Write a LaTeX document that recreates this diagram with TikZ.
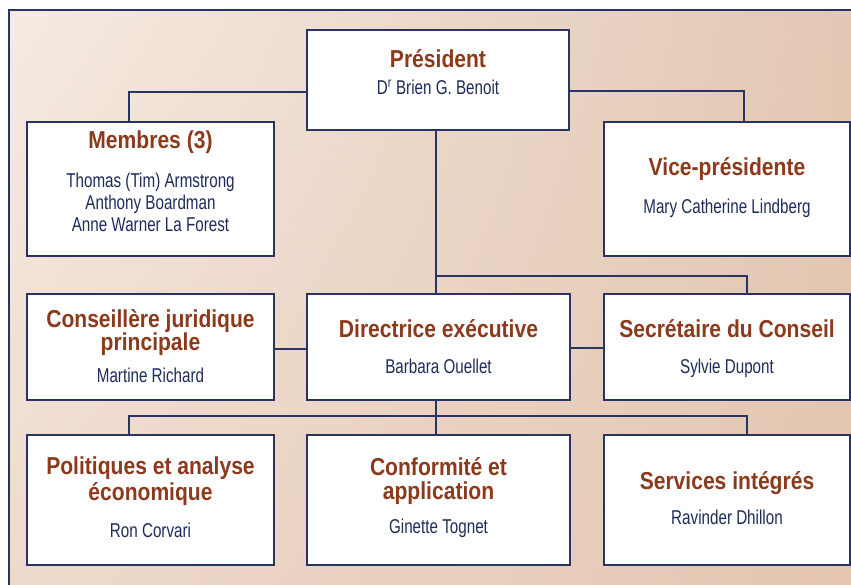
\documentclass[tikz,border=0pt]{standalone}
\usepackage{fontspec}
\usetikzlibrary{calc,shadings}
\setmainfont{Liberation Sans}
\newfontfamily\ttlfont[FakeStretch=0.86]{Liberation Sans}
\newfontfamily\nmfont[FakeStretch=0.76]{Liberation Sans}
\definecolor{bgA}{RGB}{246,235,226}
\definecolor{bgB}{RGB}{226,199,179}
\definecolor{bgC}{RGB}{238,218,204}
\definecolor{bgD}{RGB}{227,197,176}
\definecolor{navy}{RGB}{42,52,100}
\definecolor{namecol}{RGB}{30,44,90}
\definecolor{titlecol}{RGB}{140,58,28}
\tikzset{
  orgbox/.style={draw=navy, line width=2pt, fill=white, minimum width=#1, inner sep=0pt},
  link/.style={draw=navy, line width=2pt},
  ttl/.style={anchor=base, inner sep=0pt, text=titlecol, font=\ttlfont\bfseries\fontsize{24.5}{24.5}\selectfont},
  nm/.style={anchor=base, inner sep=0pt, text=namecol, font=\nmfont\fontsize{20}{20}\selectfont},
}
\begin{document}
\begin{tikzpicture}[x=1pt, y=-1pt]
\useasboundingbox (0,0) rectangle (851,585);
% background panel and its frame
\shade[upper left=bgA, upper right=bgB, lower left=bgC, lower right=bgD] (9,10) rectangle (851,585);
\draw[navy, line width=2pt] (9,585) -- (9,10) -- (851,10);

% boxes
\node[orgbox=262pt, minimum height=100pt] (pres) at (438,80) {};
\node[orgbox=247pt, minimum height=134pt] (memb) at (150.5,189) {};
\node[orgbox=246pt, minimum height=134pt] (vice) at (727,189) {};
\node[orgbox=247pt, minimum height=106pt] (cons) at (150.5,347) {};
\node[orgbox=263pt, minimum height=106pt] (dir)  at (438.5,347) {};
\node[orgbox=246pt, minimum height=106pt] (sec)  at (727,347) {};
\node[orgbox=247pt, minimum height=130pt] (pol)  at (150.5,500) {};
\node[orgbox=263pt, minimum height=130pt] (conf) at (438.5,500) {};
\node[orgbox=246pt, minimum height=130pt] (serv) at (727,500) {};

% connectors
\draw[link] ($(pres.west)+(0,12)$) -| ($(memb.north)+(-21.5,0)$);
\draw[link] ($(pres.east)+(0,11)$) -| ($(vice.north)+(17,0)$);
\draw[link] ($(pres.south)+(-2,0)$) -- ($(dir.north)+(-2.5,0)$);
\coordinate (j1) at (436,276);
\draw[link] (j1) -| ($(sec.north)+(20,0)$);
\draw[link] ($(cons.east)+(0,2)$) -- ($(dir.west)+(0,2)$);
\draw[link] ($(dir.east)+(0,1)$) -- ($(sec.west)+(0,1)$);
\draw[link] ($(dir.south)+(-2.5,0)$) -- ($(conf.north)+(-2.5,0)$);
\coordinate (j2) at (436,416);
\draw[link] ($(pol.north)+(-21.5,0)$) |- (j2) -| ($(serv.north)+(20,0)$);

% texts
\node[ttl] (presT) at (438,68) {Président};
\node[nm]  (presN) at (438,95) {D\textsuperscript{r} Brien G. Benoit};

\node[ttl] (membT)  at (150.5,149) {Membres (3)};
\node[nm]  (membN1) at (150.5,188) {Thomas (Tim) Armstrong};
\node[nm]  (membN2) at (150.5,210) {Anthony Boardman};
\node[nm]  (membN3) at (150.5,232) {Anne Warner La Forest};

\node[ttl] (viceT) at (727,176) {Vice-présidente};
\node[nm]  (viceN) at (727,214) {Mary Catherine Lindberg};

\node[ttl] (consT1) at (150.5,327) {Conseillère juridique};
\node[ttl] (consT2) at (150.5,350) {principale};
\node[nm]  (consN)  at (150.5,382) {Martine Richard};

\node[ttl] (dirT) at (438.5,337) {Directrice exécutive};
\node[nm]  (dirN) at (438.5,373) {Barbara Ouellet};

\node[ttl] (secT) at (727,337) {Secrétaire du Conseil};
\node[nm]  (secN) at (727,373) {Sylvie Dupont};

\node[ttl] (polT1) at (150.5,474) {Politiques et analyse};
\node[ttl] (polT2) at (150.5,500) {économique};
\node[nm]  (polN)  at (150.5,537) {Ron Corvari};

\node[ttl] (confT1) at (438.5,475) {Conformité et};
\node[ttl] (confT2) at (438.5,499) {application};
\node[nm]  (confN)  at (438.5,533) {Ginette Tognet};

\node[ttl] (servT) at (727,489) {Services intégrés};
\node[nm]  (servN) at (727,524) {Ravinder Dhillon};
\end{tikzpicture}
\end{document}
